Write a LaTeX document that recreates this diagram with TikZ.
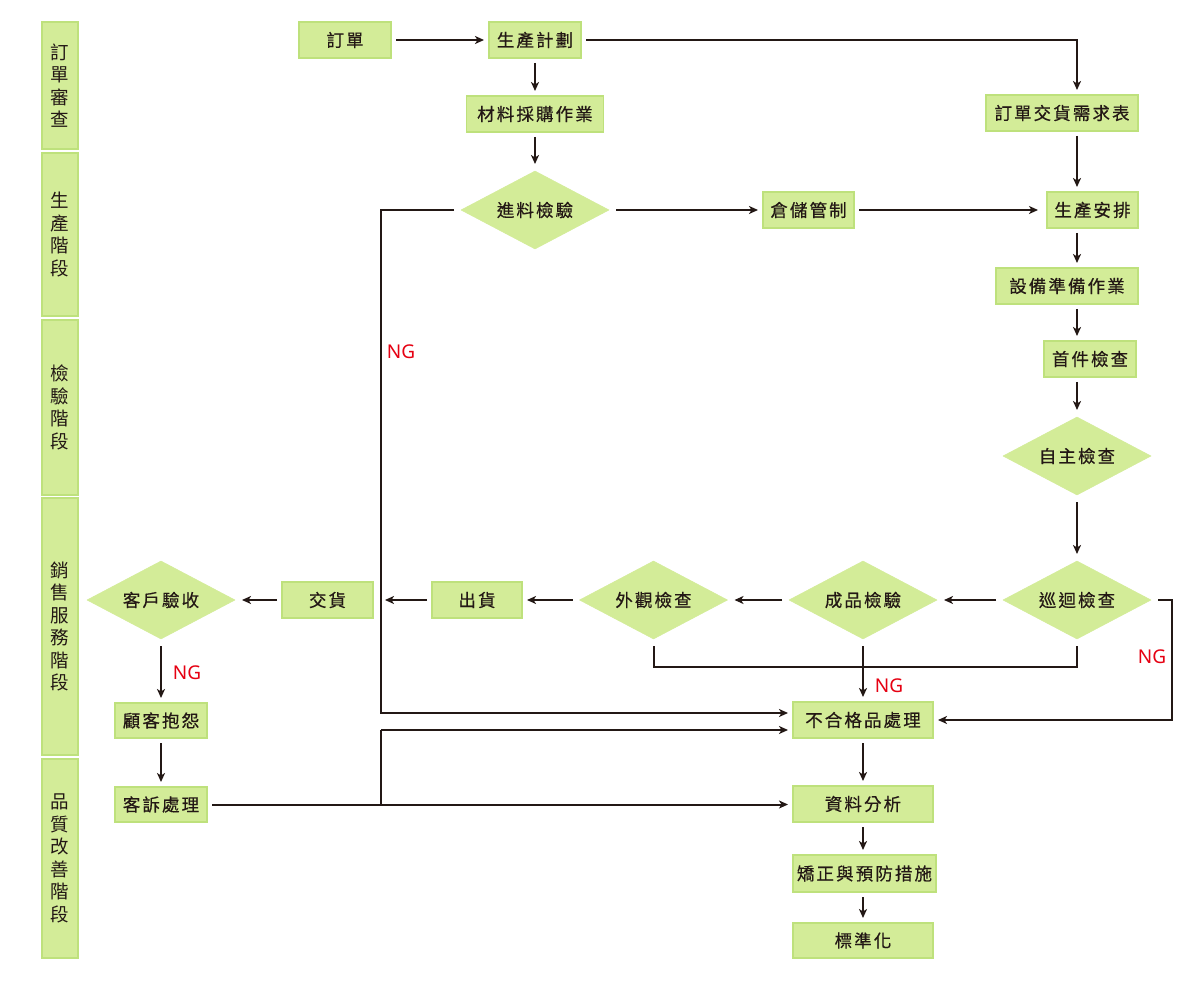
\documentclass[tikz,border=0pt]{standalone}
\usepackage{fontspec}
\usetikzlibrary{shapes.geometric,arrows.meta,calc}
\newfontfamily\cjk{Noto Sans CJK TC}[LetterSpace=12,FakeBold=0.5]
\newfontfamily\cjklane{Noto Sans CJK TC}
\newfontfamily\ngfont{Noto Sans}
\definecolor{fillg}{HTML}{D3EC98}
\definecolor{edgeg}{HTML}{BEE17C}
\definecolor{ink}{HTML}{231815}
\definecolor{ngred}{HTML}{E60012}
\begin{document}
\begin{tikzpicture}[x=1pt,y=-1pt,
  box/.style={draw=edgeg, line width=1.5pt, fill=fillg, minimum height=36pt, inner sep=0pt, outer sep=5pt, font=\cjk\fontsize{17.5}{20}\selectfont, text=ink},
  dia/.style={diamond, fill=fillg, draw=fillg, line width=0.5pt, minimum width=152pt, minimum height=82pt, aspect=1.85, inner sep=0pt, outer sep=5pt, font=\cjk\fontsize{17.5}{20}\selectfont, text=ink},
  lane/.style={draw=edgeg, line width=1.5pt, fill=fillg, minimum width=36pt, inner sep=0pt, align=center, font=\cjklane\fontsize{18.5}{22.5}\selectfont, text=ink},
  arr/.style={draw=ink, line width=2pt, -{Stealth[length=9pt,width=8pt,inset=2.5pt]}},
  ln/.style={draw=ink, line width=2pt},
  nglab/.style={text=ngred, font=\ngfont\fontsize{19}{22}\selectfont, inner sep=0pt}
]
\useasboundingbox[fill=white] (0,0) rectangle (1200,1000);

% lanes
\node[lane, minimum height=127pt] (l1) at (60,85.5) {訂\\單\\審\\查};
\node[lane, minimum height=163pt] (l2) at (60,234.5) {生\\產\\階\\段};
\node[lane, minimum height=175pt] (l3) at (60,407.5) {檢\\驗\\階\\段};
\node[lane, minimum height=257pt] (l4) at (60,626.5) {銷\\售\\服\\務\\階\\段};
\node[lane, minimum height=199pt] (l5) at (60,858.5) {品\\質\\改\\善\\階\\段};

% nodes
\node[box, minimum width=92pt] (order) at (345,40) {訂單};
\node[box, minimum width=92pt] (plan) at (535,40) {生產計劃};
\node[box, minimum width=137pt] (buy) at (535,114) {材料採購作業};
\node[dia] (inq) at (535,210) {進料檢驗};
\node[box, minimum width=91pt] (wh) at (808.5,210) {倉儲管制};
\node[box, minimum width=152pt] (dem) at (1062,113) {訂單交貨需求表};
\node[box, minimum width=91pt] (sched) at (1092.5,210) {生產安排};
\node[box, minimum width=142pt] (equip) at (1067,286) {設備準備作業};
\node[box, minimum width=92pt] (first) at (1090,359) {首件檢查};
\node[dia] (self) at (1077,456) {自主檢查};
\node[dia] (patrol) at (1077,600) {巡迴檢查};
\node[dia] (fin) at (863,600) {成品檢驗};
\node[dia] (look) at (653.5,600) {外觀檢查};
\node[box, minimum width=90pt] (ship) at (477,600) {出貨};
\node[box, minimum width=91pt] (deliv) at (327.5,600) {交貨};
\node[dia] (acc) at (161,600) {客戶驗收};
\node[box, minimum width=92pt, minimum height=35pt] (comp) at (161,720.5) {顧客抱怨};
\node[box, minimum width=92pt, minimum height=35pt] (cc) at (161,804.5) {客訴處理};
\node[box, minimum width=140pt] (ng) at (863,720) {不合格品處理};
\node[box, minimum width=140pt] (da) at (863,804) {資料分析};
\node[box, minimum width=143pt, minimum height=37pt] (cap) at (864.5,873.5) {矯正與預防措施};
\node[box, minimum width=140pt, minimum height=35pt] (std) at (863,940.5) {標準化};

% NG labels
\node[nglab] (ng1) at (401,352) {NG};
\node[nglab] (ng2) at (187,673) {NG};
\node[nglab] (ng3) at (889,686) {NG};
\node[nglab] (ng4) at (1152,657) {NG};

% helper coordinates
\coordinate (colR) at (1077,0);
\coordinate (c1) at (381,210);
\coordinate (c2) at (381,713);
\coordinate (c3) at (381,805);
\coordinate (c4) at (381,730);
\coordinate (r1) at (1172,720);
\coordinate (bl) at (760,667);

% connectors
\draw[arr] (order.east) -- (plan.west);
\draw[arr] (plan.east) -| (colR |- dem.north);
\draw[arr] (plan.south) -- (buy.north);
\draw[arr] (buy.south) -- (inq.north);
\draw[arr] (inq.east) -- (wh.west);
\draw[arr, shorten >=4pt] (wh.east) -- (sched.west);
\draw[arr] (colR |- dem.south) -- (colR |- sched.north);
\draw[arr] (colR |- sched.south) -- (colR |- equip.north);
\draw[arr] (colR |- equip.south) -- (colR |- first.north);
\draw[arr] (colR |- first.south) -- (self.north);
\draw[arr] (self.south) -- (patrol.north);
\draw[arr] (patrol.west) -- (fin.east);
\draw[arr] (fin.west) -- (look.east);
\draw[arr] (look.west) -- (ship.east);
\draw[arr] (ship.west) -- ([xshift=4pt]c1 |- ship.west);
\draw[arr] (deliv.west) -- (acc.east);
\draw[arr] (acc.south) -- (comp.north);
\draw[arr] (comp.south) -- (cc.north);
\draw[arr] (cc.east) -- (da.west |- cc.east);
\draw[arr] (ng.south) -- (da.north);
\draw[arr] (da.south) -- (da.south |- cap.north);
\draw[arr] (da.south |- cap.south) -- (std.north);
% NG loops
\draw[arr] (inq.west) -- (c1) -- (c2) -- (ng.west |- c2);
\draw[ln] (c3) -- (c4);
\draw[arr] (c4) -- (ng.west |- c4);
\draw[arr] (patrol.east) -| (r1) -- (ng.east);
\draw[ln] (look.south) |- (bl) -| (patrol.south);
\draw[arr] (fin.south) -- (ng.north);
\end{tikzpicture}
\end{document}
